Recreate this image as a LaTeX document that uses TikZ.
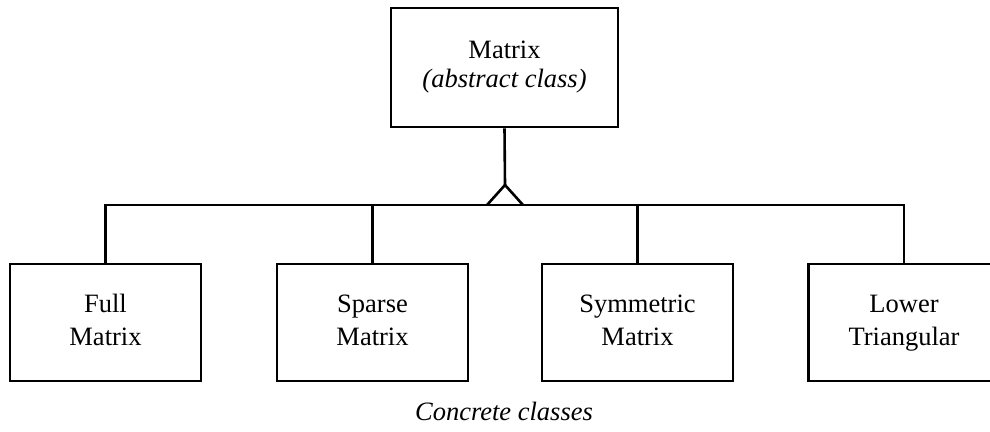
\documentclass[tikz,border=0pt]{standalone}
\usepackage{fontspec}
\setmainfont{Liberation Serif}
\begin{document}
\begin{tikzpicture}[x=1pt,y=-1pt,
  line width=2.6pt,
  cls/.style={draw, inner sep=0pt, align=center, minimum height=117pt, minimum width=191pt,
    font=\fontsize{26.5}{33}\selectfont},
  absbox/.style={draw, inner sep=0pt, align=center, minimum height=119pt, minimum width=227pt,
    font=\fontsize{26.5}{29}\selectfont},
  lbl/.style={font=\fontsize{26.5}{30}\selectfont\itshape, inner sep=0pt}]
\useasboundingbox (0,0) rectangle (990,431);
\node[absbox] (top) at (504.5,67.5) {Matrix\strut\\\textit{(abstract class)}\strut};
\node[cls] (full) at (105.5,322.5) {Full\strut\\Matrix\strut};
\node[cls] (sparse) at (372.5,322.5) {Sparse\strut\\Matrix\strut};
\node[cls] (sym) at (637.5,322.5) {Symmetric\strut\\Matrix\strut};
\node[cls] (lower) at (904,322.5) {Lower\strut\\Triangular\strut};
\node[lbl, anchor=base] (conc) at (504,420) {Concrete classes};
\coordinate (apex) at (505,185);
\coordinate (triL) at (487,205);
\coordinate (triR) at (523,205);
\coordinate (busL) at (full.north |- 0,205);
\coordinate (busR) at (lower.north |- 0,205);
\draw (top.south) -- (apex);
\draw[line join=miter] (triL) -- (apex) -- (triR);
\draw (full.north) -- (busL) -- (busR) -- (lower.north);
\draw (sparse.north) -- (sparse.north |- busL);
\draw (sym.north) -- (sym.north |- busL);
\end{tikzpicture}
\end{document}
